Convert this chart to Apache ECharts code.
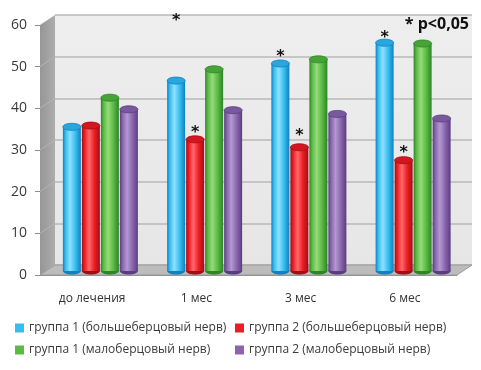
<!DOCTYPE html>
<html>
<head>
<meta charset="utf-8">
<script src="https://cdn.jsdelivr.net/npm/echarts@6/dist/echarts.min.js"></script>
<style>
  html, body { margin: 0; padding: 0; background: #fff; }
  #chart { width: 481px; height: 370px; }
</style>
</head>
<body>
<div id="chart"></div>
<script>
const categories = ['до лечения', '1 мес', '3 мес', '6 мес'];
const seriesNames = [
  'группа 1 (большеберцовый нерв)',
  'группа 2 (большеберцовый нерв)',
  'группа 1 (малоберцовый нерв)',
  'группа 2 (малоберцовый нерв)'
];
const group1Tibial = [34.6, 45.7, 49.8, 54.8];
const group2Tibial = [34.9, 31.6, 29.7, 26.6];
const group1Peroneal = [41.6, 48.4, 50.8, 54.6];
const group2Peroneal = [38.8, 38.6, 37.7, 36.6];
// where the "*" marks sit (value level), null = no mark
const starsGroup1Tibial = [null, 60.9, 52.4, 57.0];
const starsGroup2Tibial = [null, 34.1, 33.4, 29.4];
const yTicks = [0, 10, 20, 30, 40, 50, 60];

const allValues = [group1Tibial, group2Tibial, group1Peroneal, group2Peroneal];
const allStars = [starsGroup1Tibial, starsGroup2Tibial, [], []];

const palette = [
  { main: '#35bff0', dark: '#137fbd', light: '#8fe0ff', top: '#2aa6df' },
  { main: '#ec1c24', dark: '#a10f16', light: '#ff6a6a', top: '#d4161e' },
  { main: '#5cb946', dark: '#2d8526', light: '#95dc78', top: '#47a337' },
  { main: '#8a65ad', dark: '#5a3d7e', light: '#b19ad0', top: '#775a9e' }
];

// plot geometry (front plane + depth of the 3d box)
const front = { left: 40, right: 457, top: 25, bottom: 275 };
const depth = { x: 15, y: -10 };
const barW = 18, barStep = 19;

const chart = echarts.init(document.getElementById('chart'));

function renderCylinder(params, api) {
  const si = params.seriesIndex;
  const c = palette[si];
  const cat = api.value(0), v = api.value(1), star = api.value(2);
  const p0 = api.coord([cat, 0]);
  const p1 = api.coord([cat, v]);
  const cx = p0[0] + depth.x * 0.55 + (si - 1.5) * barStep;
  const yb = p0[1] + depth.y * 0.4;
  const yt = p1[1] + depth.y * 0.4;
  const r = barW / 2, ry = 3.5;
  const grad = {
    type: 'linear', x: 0, y: 0, x2: 1, y2: 0,
    colorStops: [
      { offset: 0, color: c.dark },
      { offset: 0.15, color: c.main },
      { offset: 0.4, color: c.light },
      { offset: 0.7, color: c.main },
      { offset: 1, color: c.dark }
    ]
  };
  const children = [
    { type: 'ellipse', shape: { cx: cx, cy: yb, rx: r, ry: ry }, style: { fill: c.dark } },
    { type: 'rect', shape: { x: cx - r, y: yt, width: r * 2, height: yb - yt }, style: { fill: grad } },
    { type: 'ellipse', shape: { cx: cx, cy: yt, rx: r, ry: ry }, style: { fill: c.top, stroke: c.dark, lineWidth: 0.8 } }
  ];
  if (star != null && !isNaN(star)) {
    const ps = api.coord([cat, star]);
    children.push({
      type: 'text', x: cx, y: ps[1] + depth.y * 0.4 + 4,
      style: { text: '*', fontSize: 16, fontWeight: 'bold', fontFamily: 'DejaVu Sans', fill: '#111', align: 'center', verticalAlign: 'middle' }
    });
  }
  return { type: 'group', children: children };
}

// decorative 3d box: left wall, floor, wall gridlines
const yMax = yTicks[yTicks.length - 1];
const fy = v => front.bottom - v * (front.bottom - front.top) / yMax;
const by = v => fy(v) + depth.y;
const decor = [
  {
    type: 'polygon', z: 1,
    shape: { points: [[front.left, fy(yMax)], [front.left + depth.x, by(yMax)], [front.left + depth.x, by(0)], [front.left, fy(0)]] },
    style: { fill: { type: 'linear', x: 0, y: 0, x2: 1, y2: 0, colorStops: [{ offset: 0, color: '#969696' }, { offset: 1, color: '#adadad' }] } }
  },
  {
    type: 'polygon', z: 1,
    shape: { points: [[front.left, fy(0)], [front.right, fy(0)], [front.right + depth.x, by(0)], [front.left + depth.x, by(0)]] },
    style: { fill: '#bcbcbc', stroke: '#9a9a9a', lineWidth: 1 }
  }
];
yTicks.slice(1, -1).forEach(v => {
  decor.push({
    type: 'line', z: 1,
    shape: { x1: front.left, y1: fy(v), x2: front.left + depth.x, y2: by(v) },
    style: { stroke: '#b4b4b4', lineWidth: 1 }
  });
});

const series = seriesNames.map((name, i) => ({
  name: name,
  type: 'custom',
  xAxisIndex: 0,
  yAxisIndex: 0,
  z: 5,
  clip: false,
  itemStyle: { color: palette[i].main },
  dimensions: ['cat', 'val', 'star'],
  encode: { x: 0, y: 1 },
  renderItem: renderCylinder,
  data: allValues[i].map((v, k) => [k, v, allStars[i][k] == null ? NaN : allStars[i][k]])
}));

const legendText = { fontSize: 12, color: '#3a3a3a', fontFamily: 'Open Sans' };

chart.setOption({
  animation: false,
  textStyle: { fontFamily: 'Open Sans' },
  title: {
    text: '* p<0,05',
    right: 7, top: 11,
    textStyle: { fontSize: 16, fontWeight: 'bold', color: '#111', fontFamily: 'Open Sans' }
  },
  legend: [
    {
      orient: 'vertical', left: 10, top: 317, itemGap: 10,
      itemWidth: 9, itemHeight: 9, icon: 'rect',
      data: [seriesNames[0], seriesNames[2]],
      textStyle: legendText
    },
    {
      orient: 'vertical', left: 230, top: 317, itemGap: 10,
      itemWidth: 9, itemHeight: 9, icon: 'rect',
      data: [seriesNames[1], seriesNames[3]],
      textStyle: legendText
    }
  ],
  grid: [
    { left: front.left, right: 481 - front.right, top: front.top, bottom: 370 - front.bottom },
    {
      left: front.left + depth.x, right: 481 - front.right - depth.x,
      top: front.top + depth.y, bottom: 370 - front.bottom - depth.y,
      show: true, borderWidth: 0,
      backgroundColor: { type: 'linear', x: 0, y: 0, x2: 0, y2: 1, colorStops: [{ offset: 0, color: '#eeeeee' }, { offset: 1, color: '#e6e6e6' }] }
    }
  ],
  xAxis: [
    {
      type: 'category', gridIndex: 0, data: categories,
      axisLine: { lineStyle: { color: '#8c8c8c' } },
      axisTick: { length: 6, lineStyle: { color: '#8c8c8c' } },
      axisLabel: { color: '#333', fontSize: 12, margin: 18, fontFamily: 'Open Sans' }
    },
    { type: 'value', gridIndex: 1, show: false, min: 0, max: 1 }
  ],
  yAxis: [
    {
      type: 'value', gridIndex: 0, min: 0, max: yMax, interval: 10,
      axisLine: { show: false },
      axisTick: { show: true, length: 5, lineStyle: { color: '#8c8c8c' } },
      axisLabel: { color: '#3a3a3a', fontSize: 14, margin: 13, fontFamily: 'Open Sans' },
      splitLine: { show: false }
    },
    {
      type: 'value', gridIndex: 1, min: 0, max: yMax, interval: 10,
      axisLine: { show: false }, axisTick: { show: false }, axisLabel: { show: false },
      splitLine: { show: true, lineStyle: { color: '#b9b9b9', width: 1.5 } }
    }
  ],
  graphic: decor,
  series: series
});
</script>
</body>
</html>
